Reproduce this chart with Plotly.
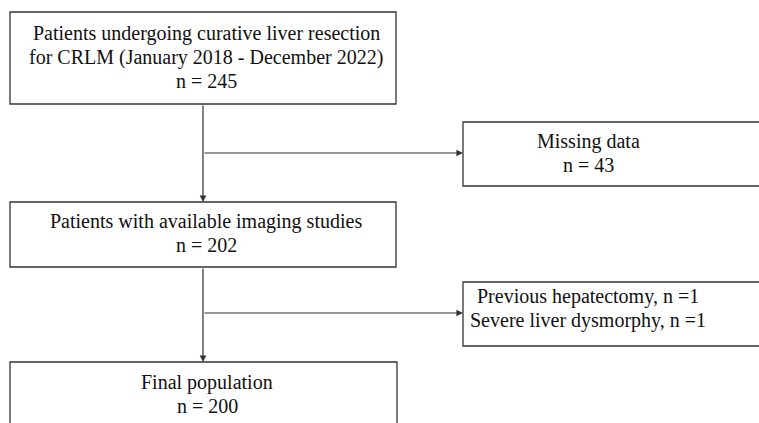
import plotly.graph_objects as go

# Flowchart content
box_lines = [
    ["Patients undergoing curative liver resection", "for CRLM (January 2018 - December 2022)"],
    ["Missing data"],
    ["Patients with available imaging studies"],
    ["Previous hepatectomy, n =1", "Severe liver dysmorphy, n =1"],
    ["Final population"],
]
box_counts = ["n = 245", "n = 43", "n = 202", None, "n = 200"]

# Layout geometry (pixels, y downward)
boxes = [  # x0, y0, x1, y1, text_x, text_y (center of text block)
    (10, 12, 396, 104, 206, 57),
    (463, 122, 762, 186, 588, 153),
    (10, 202, 396, 267, 206, 233),
    (463, 282, 762, 346, 588, 308),
    (10, 362, 397, 440, 207, 394),
]
arrows = [  # tail x, tail y, head x, head y
    (203, 104, 203, 202),
    (203, 153, 463, 153),
    (203, 267, 203, 362),
    (203, 313, 463, 313),
]

W, H = 759, 423
LC = "#333333"
LINE_GAP = 24
fig = go.Figure()
fig.add_trace(go.Scatter(x=[0, W], y=[0, H], mode="markers", marker=dict(opacity=0),
                         hoverinfo="skip", showlegend=False))

for (x0, y0, x1, y1, tx, ty), lines, cnt in zip(boxes, box_lines, box_counts):
    fig.add_shape(type="rect", x0=x0, y0=y0, x1=x1, y1=y1,
                  line=dict(color=LC, width=1.3), fillcolor="white", layer="below")
    all_lines = list(lines) + ([cnt] if cnt is not None else [])
    n = len(all_lines)
    for i, ln in enumerate(all_lines):
        fig.add_annotation(x=tx, y=ty + (i - (n - 1) / 2) * LINE_GAP, text=ln, showarrow=False,
                           xanchor="center", yanchor="middle",
                           font=dict(family="Liberation Serif", size=20, color="#111"))

for (ax_, ay_, hx, hy) in arrows:
    fig.add_annotation(x=hx, y=hy, ax=ax_, ay=ay_, xref="x", yref="y", axref="x", ayref="y",
                       text="", showarrow=True, arrowhead=2, arrowsize=1.1, arrowwidth=1.2,
                       arrowcolor=LC, standoff=0, startstandoff=0)

fig.update_xaxes(range=[0, W], visible=False, fixedrange=True)
fig.update_yaxes(range=[H, 0], visible=False, fixedrange=True)
fig.update_layout(width=W, height=H, margin=dict(l=0, r=0, t=0, b=0),
                  plot_bgcolor="white", paper_bgcolor="white", showlegend=False)
fig.write_html("out.html", config={"displayModeBar": False},
               post_script="document.body.style.margin='0';document.body.style.overflow='hidden';")
